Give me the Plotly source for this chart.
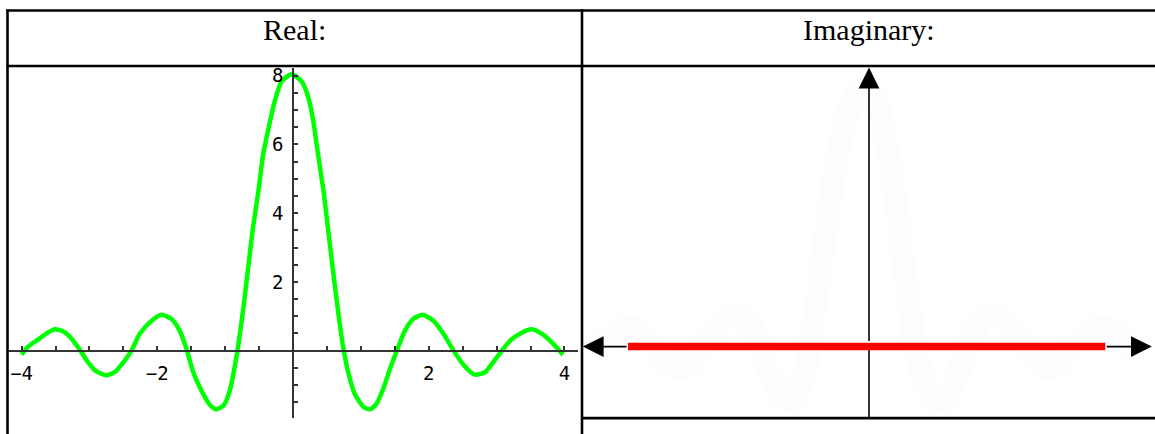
import plotly.graph_objects as go

# ---------------- data ----------------
real_x = [-4.00, -3.90, -3.78, -3.63, -3.51, -3.39, -3.26, -3.14, -3.02, -2.90, -2.75, -2.63,
          -2.50, -2.38, -2.26, -2.11, -1.94, -1.79, -1.67, -1.57, -1.47, -1.35, -1.22, -1.13,
          -1.02, -0.93, -0.86, -0.81, -0.73, -0.66, -0.59, -0.51, -0.44, -0.36, -0.27, -0.17,
          -0.02,
          0.13, 0.23, 0.30, 0.37, 0.45, 0.52, 0.59, 0.67, 0.74, 0.82, 0.91, 1.04, 1.14, 1.23,
          1.33, 1.43, 1.53, 1.65, 1.77, 1.91, 2.07, 2.22, 2.36, 2.51, 2.68, 2.83, 2.95, 3.08,
          3.20, 3.35, 3.52, 3.69, 3.84, 3.98]
real_y = [-0.12, 0.12, 0.29, 0.50, 0.62, 0.56, 0.34, 0.02, -0.34, -0.60, -0.72, -0.63,
          -0.34, 0.00, 0.48, 0.82, 1.04, 0.92, 0.58, 0.05, -0.63, -1.16, -1.59, -1.71,
          -1.59, -1.16, -0.48, 0.10, 1.26, 2.42, 3.57, 4.64, 5.70, 6.47, 7.25, 7.83,
          8.04,
          7.83, 7.34, 6.67, 5.70, 4.64, 3.48, 2.32, 1.06, 0.10, -0.68, -1.26, -1.64, -1.71, -1.55,
          -1.11, -0.53, 0.00, 0.58, 0.92, 1.04, 0.87, 0.48, 0.02, -0.41, -0.70, -0.63, -0.34, 0.00,
          0.29, 0.50, 0.62, 0.46, 0.19, -0.12]

imag_x = [-3.57, 3.50]
imag_y = [0.0, 0.0]

x_tick_vals = [v / 2 for v in range(-8, 9)]
x_tick_text = ["−4" if v == -4 else "−2" if v == -2 else "2" if v == 2 else "4" if v == 4 else ""
               for v in x_tick_vals]
y_tick_vals = [v / 2 for v in range(-3, 17)]
y_tick_text = [str(int(v)) if v in (2, 4, 6, 8) else "" for v in y_tick_vals]

headers = ["Real:", "Imaginary:"]

# ---------------- layout helpers ----------------
W, H = 1155, 434


def px(x):
    return x / W


def py(y):
    return 1 - y / H


fig = go.Figure()

# very faint ghost of the curve in the right panel
fig.add_trace(go.Scatter(x=[v - 0.06 for v in real_x], y=real_y, mode="lines",
                         line=dict(color="rgba(0,0,0,0.006)", width=24, shape="spline"),
                         xaxis="x2", yaxis="y2", hoverinfo="skip", showlegend=False))

fig.add_trace(go.Scatter(x=real_x, y=real_y, mode="lines",
                         line=dict(color="rgb(0,255,0)", width=4.5, shape="spline", smoothing=0.6),
                         xaxis="x", yaxis="y", showlegend=False))

fig.add_trace(go.Scatter(x=imag_x, y=imag_y, mode="lines",
                         line=dict(color="rgb(255,0,0)", width=7.5),
                         xaxis="x2", yaxis="y2", showlegend=False))

mono = dict(family="DejaVu Sans Mono", size=19, color="#000")

fig.update_layout(
    width=W, height=H,
    margin=dict(l=0, r=0, t=0, b=0),
    paper_bgcolor="white", plot_bgcolor="rgba(0,0,0,0)",
    showlegend=False,
    xaxis=dict(domain=[px(8), px(578)], range=[-4.2, 4.2], anchor="free", position=py(350),
               showgrid=False, zeroline=False, showline=True, linecolor="#333", linewidth=1.5,
               ticks="inside", ticklen=4, tickwidth=1.5, tickcolor="#333",
               tickmode="array", tickvals=x_tick_vals, ticktext=x_tick_text,
               tickfont=mono, ticklabelstandoff=6, fixedrange=True),
    yaxis=dict(domain=[py(418), py(65)], range=[-1.965, 8.237], anchor="free", position=px(293),
               showgrid=False, zeroline=False, showline=True, linecolor="#333", linewidth=1.5,
               ticks="inside", ticklen=4, tickwidth=1.5, tickcolor="#333",
               tickmode="array", tickvals=y_tick_vals, ticktext=y_tick_text,
               tickfont=mono, ticklabelstandoff=5, fixedrange=True),
    xaxis2=dict(domain=[px(582), 1.0], range=[-4.252, 4.237], visible=False, anchor="y2",
                fixedrange=True),
    yaxis2=dict(domain=[py(418), py(64)], range=[-2.25, 8.8125], visible=False, anchor="x2",
                fixedrange=True),
)

# table borders
bw = 2.6
lines = [
    (6.3, 7.5, W, 7.5),
    (6.3, 63.5, W, 63.5),
    (7.5, 6.3, 7.5, H),
    (582, 6.3, 582, H),
    (582, 418, W, 418),
]
for x0, y0, x1, y1 in lines:
    fig.add_shape(type="line", xref="paper", yref="paper",
                  x0=px(x0), y0=py(y0), x1=px(x1), y1=py(y1),
                  line=dict(color="black", width=bw))

# header texts
serif = dict(family="Liberation Serif", size=30, color="black")
fig.add_annotation(text=headers[0], xref="paper", yref="paper", x=px(294.5), y=py(27),
                   xanchor="center", yanchor="middle", showarrow=False, font=serif)
fig.add_annotation(text=headers[1], xref="paper", yref="paper", x=px(869), y=py(27),
                   xanchor="center", yanchor="middle", showarrow=False, font=serif)

# axes with arrows in the imaginary panel
arrow = dict(showarrow=True, arrowhead=2, arrowsize=2.6, arrowwidth=1.6, arrowcolor="black",
             xref="x2", yref="y2", axref="x2", ayref="y2", text="")
fig.add_annotation(x=4.19, y=0, ax=3.5, ay=0, **arrow)
fig.add_annotation(x=-4.24, y=0, ax=-3.57, ay=0, **arrow)
fig.add_annotation(x=0, y=8.78, ax=0, ay=0.13, **arrow)
fig.add_shape(type="line", xref="x2", yref="y2", x0=0, y0=-2.25, x1=0, y1=0,
              line=dict(color="black", width=1.6), layer="below")

fig.write_html("out.html", config={"displayModeBar": False},
               post_script="document.body.style.margin='0';document.body.style.overflow='hidden';")
